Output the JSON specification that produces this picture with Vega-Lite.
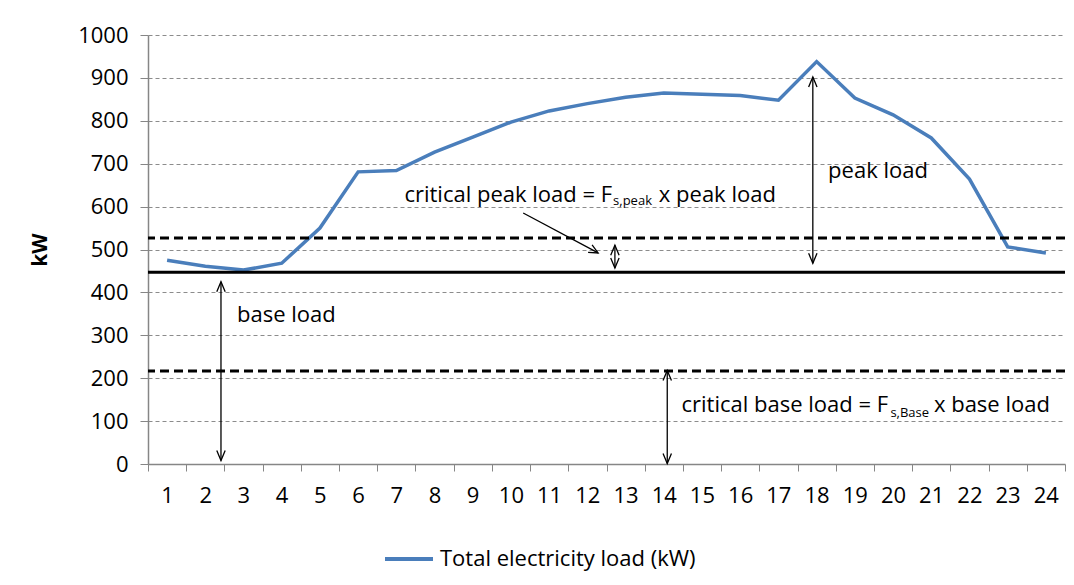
{
  "$schema": "https://vega.github.io/schema/vega-lite/v6.json",
  "width": 917,
  "height": 429,
  "autosize": {"type": "none"},
  "padding": {"left": 148, "top": 35, "right": 9, "bottom": 121},
  "background": "white",
  "config": {
    "view": {"stroke": null},
    "font": "Open Sans",
    "axis": {"labelFont": "Open Sans", "labelFontSize": 22, "labelColor": "#000000", "titleFont": "Open Sans"},
    "legend": {"labelFont": "Open Sans", "labelFontSize": 22, "labelColor": "#000000", "labelLimit": 0}
  },
  "datasets": {
    "load": [
      {"hour": 1, "kW": 475, "series": "Total electricity load (kW)"},
      {"hour": 2, "kW": 461, "series": "Total electricity load (kW)"},
      {"hour": 3, "kW": 452, "series": "Total electricity load (kW)"},
      {"hour": 4, "kW": 468, "series": "Total electricity load (kW)"},
      {"hour": 5, "kW": 550, "series": "Total electricity load (kW)"},
      {"hour": 6, "kW": 681, "series": "Total electricity load (kW)"},
      {"hour": 7, "kW": 684, "series": "Total electricity load (kW)"},
      {"hour": 8, "kW": 727, "series": "Total electricity load (kW)"},
      {"hour": 9, "kW": 762, "series": "Total electricity load (kW)"},
      {"hour": 10, "kW": 797, "series": "Total electricity load (kW)"},
      {"hour": 11, "kW": 823, "series": "Total electricity load (kW)"},
      {"hour": 12, "kW": 840, "series": "Total electricity load (kW)"},
      {"hour": 13, "kW": 855, "series": "Total electricity load (kW)"},
      {"hour": 14, "kW": 865, "series": "Total electricity load (kW)"},
      {"hour": 15, "kW": 862, "series": "Total electricity load (kW)"},
      {"hour": 16, "kW": 859, "series": "Total electricity load (kW)"},
      {"hour": 17, "kW": 848, "series": "Total electricity load (kW)"},
      {"hour": 18, "kW": 938, "series": "Total electricity load (kW)"},
      {"hour": 19, "kW": 853, "series": "Total electricity load (kW)"},
      {"hour": 20, "kW": 814, "series": "Total electricity load (kW)"},
      {"hour": 21, "kW": 760, "series": "Total electricity load (kW)"},
      {"hour": 22, "kW": 664, "series": "Total electricity load (kW)"},
      {"hour": 23, "kW": 506, "series": "Total electricity load (kW)"},
      {"hour": 24, "kW": 492, "series": "Total electricity load (kW)"}
    ],
    "levels": [
      {"kW": 447, "kind": "base load"},
      {"kW": 527, "kind": "critical peak load"},
      {"kW": 217, "kind": "critical base load"}
    ],
    "arrows": [
      {"name": "base load", "x": 2.41, "from": 8, "to": 425},
      {"name": "critical base load", "x": 14.09, "from": 1, "to": 218},
      {"name": "peak load", "x": 17.9, "from": 468, "to": 902},
      {"name": "critical peak load", "x": 12.72, "from": 457, "to": 510}
    ],
    "heads": [
      {"x": 2.41, "kW": 425, "dir": "up"},
      {"x": 2.41, "kW": 8, "dir": "down"},
      {"x": 14.09, "kW": 218, "dir": "up"},
      {"x": 14.09, "kW": 1, "dir": "down"},
      {"x": 17.9, "kW": 902, "dir": "up"},
      {"x": 17.9, "kW": 468, "dir": "down"},
      {"x": 12.72, "kW": 510, "dir": "up"},
      {"x": 12.72, "kW": 457, "dir": "down"},
      {"x": 12.28, "kW": 492, "dir": "diag"}
    ],
    "pointer": [
      {"x": 10.32, "kW": 585, "x2": 12.28, "kW2": 492}
    ],
    "textLeft": [
      {"text": "peak load", "x": 18.3, "kW": 667},
      {"text": "base load", "x": 2.83, "kW": 331},
      {"text": "x peak load", "x": 13.87, "kW": 611},
      {"text": "x base load", "x": 21.07, "kW": 121}
    ],
    "textRight": [
      {"text": "critical peak load = F", "x": 12.647, "kW": 611},
      {"text": "critical base load = F", "x": 19.87, "kW": 121}
    ],
    "textSub": [
      {"text": "s,peak", "x": 12.673, "kW": 604},
      {"text": "s,Base", "x": 19.93, "kW": 110}
    ]
  },
  "layer": [
    {
      "data": {"name": "load"},
      "mark": {"type": "line", "strokeWidth": 3.5, "strokeJoin": "miter"},
      "encoding": {
        "x": {
          "field": "hour", "type": "quantitative",
          "scale": {"domain": [0.5, 24.5], "nice": false, "zero": false},
          "axis": {
            "title": null,
            "values": [0.5, 1.5, 2.5, 3.5, 4.5, 5.5, 6.5, 7.5, 8.5, 9.5, 10.5, 11.5, 12.5, 13.5, 14.5, 15.5, 16.5, 17.5, 18.5, 19.5, 20.5, 21.5, 22.5, 23.5, 24.5],
            "tickCount": 50,
            "labelExpr": "datum.value < 24 ? '' + round(datum.value + 0.5) : ''",
            "labelOffset": 19,
            "labelFlush": false,
            "labelOverlap": false,
            "labelBound": false,
            "labelPadding": 14,
            "grid": false,
            "domainColor": "#868686",
            "domainWidth": 1.5,
            "tickColor": "#868686",
            "tickSize": 7
          }
        },
        "y": {
          "field": "kW", "type": "quantitative",
          "scale": {"domain": [0, 1000], "nice": false},
          "axis": {
            "title": "kW",
            "titleFontSize": 21,
            "titleFontWeight": "bold",
            "titleX": -108,
            "titleBaseline": "middle",
            "format": "d",
            "values": [0, 100, 200, 300, 400, 500, 600, 700, 800, 900, 1000],
            "tickCount": 20,
            "labelPadding": 12,
            "tickSize": 8,
            "tickColor": "#868686",
            "domainColor": "#868686",
            "domainWidth": 1.5,
            "grid": true,
            "gridColor": "#8c8c8c",
            "gridDash": [4, 3],
            "gridWidth": 1
          }
        },
        "color": {
          "field": "series", "type": "nominal",
          "scale": {"domain": ["Total electricity load (kW)"], "range": ["#4A7EBB"]},
          "legend": {
            "title": null,
            "orient": "none",
            "legendX": 235,
            "legendY": 498,
            "padding": 0,
            "labelLimit": 0,
            "symbolType": "stroke",
            "symbolSize": 2304,
            "symbolStrokeWidth": 4,
            "labelOffset": 5
          }
        }
      }
    },
    {
      "data": {"name": "levels"},
      "mark": {"type": "rule", "color": "#000000", "strokeWidth": 3},
      "encoding": {
        "y": {"field": "kW", "type": "quantitative"},
        "strokeDash": {
          "field": "kind", "type": "nominal",
          "scale": {"domain": ["base load", "critical peak load", "critical base load"], "range": [[1, 0], [9, 5], [9, 5]]},
          "legend": null
        }
      }
    },
    {
      "data": {"name": "arrows"},
      "mark": {"type": "rule", "color": "#000000", "strokeWidth": 1.3},
      "encoding": {
        "x": {"field": "x", "type": "quantitative"},
        "y": {"field": "from", "type": "quantitative"},
        "y2": {"field": "to"}
      }
    },
    {
      "data": {"name": "pointer"},
      "mark": {"type": "rule", "color": "#000000", "strokeWidth": 1.3},
      "encoding": {
        "x": {"field": "x", "type": "quantitative"},
        "x2": {"field": "x2"},
        "y": {"field": "kW", "type": "quantitative"},
        "y2": {"field": "kW2"}
      }
    },
    {
      "data": {"name": "heads"},
      "mark": {"type": "point", "filled": false, "stroke": "#000000", "strokeWidth": 1.3, "opacity": 1, "size": 400},
      "encoding": {
        "x": {"field": "x", "type": "quantitative"},
        "y": {"field": "kW", "type": "quantitative"},
        "shape": {
          "field": "dir", "type": "nominal",
          "scale": {"domain": ["up", "down", "diag"], "range": ["M-0.42,1L0,0L0.42,1", "M-0.42,-1L0,0L0.42,-1", "M-1,-0.05L0,0L-0.6,-0.8"]},
          "legend": null
        }
      }
    },
    {
      "data": {"name": "textLeft"},
      "mark": {"type": "text", "align": "left", "baseline": "alphabetic", "fontSize": 22, "font": "Open Sans", "color": "#000000"},
      "encoding": {
        "x": {"field": "x", "type": "quantitative"},
        "y": {"field": "kW", "type": "quantitative"},
        "text": {"field": "text"}
      }
    },
    {
      "data": {"name": "textRight"},
      "mark": {"type": "text", "align": "right", "baseline": "alphabetic", "fontSize": 22, "font": "Open Sans", "color": "#000000"},
      "encoding": {
        "x": {"field": "x", "type": "quantitative"},
        "y": {"field": "kW", "type": "quantitative"},
        "text": {"field": "text"}
      }
    },
    {
      "data": {"name": "textSub"},
      "mark": {"type": "text", "align": "left", "baseline": "alphabetic", "fontSize": 13, "font": "Open Sans", "color": "#000000"},
      "encoding": {
        "x": {"field": "x", "type": "quantitative"},
        "y": {"field": "kW", "type": "quantitative"},
        "text": {"field": "text"}
      }
    }
  ]
}
